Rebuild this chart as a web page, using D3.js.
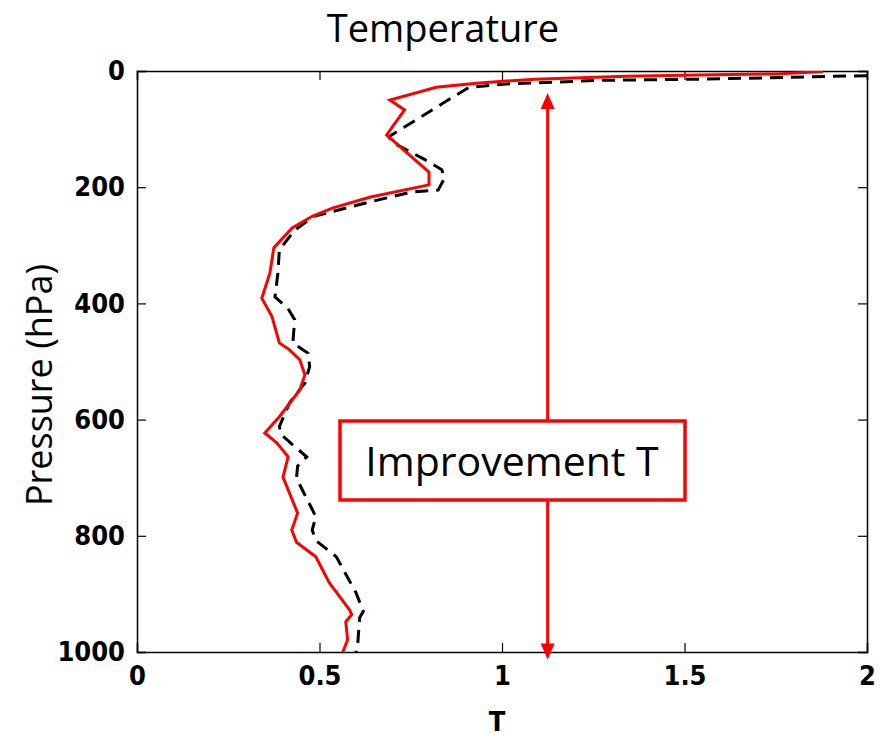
<!DOCTYPE html>
<html>
<head>
<meta charset="utf-8">
<script src="https://cdn.jsdelivr.net/npm/d3@7"></script>
<style>
  body { margin: 0; background: #fff; }
  svg { display: block; }
</style>
</head>
<body>
<svg id="chart" width="887" height="737"></svg>
<script>
// pressure levels (hPa) and T values
var redP = [1, 5, 7, 9, 14, 21, 28, 50, 67, 110, 174, 196, 217, 236, 250, 270, 304, 348, 391, 423, 468, 480, 497, 523, 549, 595, 623, 640, 664, 699, 761, 790, 811, 836, 881, 928, 936, 948, 979, 1000];
var redT = [1.88, 1.75, 1.54, 1.34, 1.09, 0.93, 0.82, 0.693, 0.733, 0.684, 0.80, 0.80, 0.64, 0.535, 0.48, 0.425, 0.375, 0.364, 0.342, 0.37, 0.39, 0.418, 0.446, 0.46, 0.446, 0.39, 0.35, 0.383, 0.414, 0.40, 0.44, 0.424, 0.437, 0.49, 0.527, 0.583, 0.588, 0.572, 0.577, 0.564];

var blackP = [8, 10, 14, 16, 22, 28, 45, 84, 113, 123, 153, 170, 184, 205, 208, 225, 250, 274, 308, 348, 389, 408, 428, 468, 486, 509, 537, 571, 612, 626, 649, 664, 680, 701, 767, 790, 808, 836, 898, 930, 941, 984, 1000];
var blackT = [2.0, 1.85, 1.55, 1.275, 1.02, 0.91, 0.865, 0.765, 0.69, 0.70, 0.79, 0.835, 0.843, 0.825, 0.755, 0.64, 0.485, 0.432, 0.39, 0.386, 0.378, 0.413, 0.432, 0.427, 0.469, 0.473, 0.46, 0.418, 0.39, 0.395, 0.437, 0.465, 0.44, 0.437, 0.49, 0.48, 0.49, 0.546, 0.60, 0.62, 0.61, 0.605, 0.60];

var xTicks = [0, 0.5, 1, 1.5, 2];
var xTickLabels = ['0', '0.5', '1', '1.5', '2'];
var yTicks = [0, 200, 400, 600, 800, 1000];

var arrowT = 1.125;
var arrowP = [38, 1013];

(function () {
    var svg = d3.select('#chart');
    var m = { left: 137, right: 867, top: 71, bottom: 652 };

    var x = d3.scaleLinear().domain([0, 2]).range([m.left, m.right]);
    var y = d3.scaleLinear().domain([0, 1000]).range([m.top, m.bottom]);

    var tickFont = '"DejaVu Sans Condensed", "Liberation Sans Narrow", "Liberation Sans", Arial, sans-serif';
    var textFont = '"Open Sans", sans-serif';

    // clip so the curves stay inside the frame
    svg.append('clipPath').attr('id', 'clip')
      .append('rect')
      .attr('x', m.left).attr('y', m.top)
      .attr('width', m.right - m.left).attr('height', m.bottom - m.top);

    // axes, ticks pointing inwards
    var xAxis = d3.axisBottom(x).tickValues(xTicks).tickSize(-9).tickPadding(14)
      .tickFormat(function (d, i) { return xTickLabels[i]; });
    var xTop = d3.axisTop(x).tickValues(xTicks).tickSize(-9).tickFormat('');
    var yAxis = d3.axisLeft(y).tickValues(yTicks).tickSize(-9).tickPadding(12)
      .tickFormat(d3.format('d'));
    var yRight = d3.axisRight(y).tickValues(yTicks).tickSize(-9).tickFormat('');

    svg.append('g').attr('transform', 'translate(0,' + m.bottom + ')').call(xAxis);
    svg.append('g').attr('transform', 'translate(0,' + m.top + ')').call(xTop);
    svg.append('g').attr('transform', 'translate(' + m.left + ',0)').call(yAxis);
    svg.append('g').attr('transform', 'translate(' + m.right + ',0)').call(yRight);

    svg.selectAll('.domain').attr('stroke', '#000').attr('stroke-width', 1.5);
    svg.selectAll('.tick line').attr('stroke', '#000').attr('stroke-width', 1.2);
    svg.selectAll('.tick text')
      .attr('fill', '#000')
      .style('font-family', tickFont)
      .style('font-size', '27px')
      .style('font-weight', 'bold');

    var line = d3.line()
      .x(function (d) { return x(d[0]); })
      .y(function (d) { return y(d[1]); });

    var curves = svg.append('g').attr('clip-path', 'url(#clip)');

    curves.append('path')
      .datum(d3.zip(blackT, blackP))
      .attr('d', line)
      .attr('fill', 'none')
      .attr('stroke', '#000')
      .attr('stroke-width', 3)
      .attr('stroke-dasharray', '13,8');

    curves.append('path')
      .datum(d3.zip(redT, redP))
      .attr('d', line)
      .attr('fill', 'none')
      .attr('stroke', '#ff0000')
      .attr('stroke-width', 3);

    // the double arrow
    var ax = x(arrowT);
    var y0 = y(arrowP[0]), y1 = y(arrowP[1]);
    svg.append('line')
      .attr('x1', ax).attr('x2', ax)
      .attr('y1', y0 + 14).attr('y2', y1 - 14)
      .attr('stroke', '#ff0000').attr('stroke-width', 3);
    svg.append('path')
      .attr('d', 'M' + ax + ',' + y0 + 'L' + (ax - 7) + ',' + (y0 + 16) + 'L' + (ax + 7) + ',' + (y0 + 16) + 'Z')
      .attr('fill', '#ff0000');
    svg.append('path')
      .attr('d', 'M' + ax + ',' + y1 + 'L' + (ax - 7) + ',' + (y1 - 16) + 'L' + (ax + 7) + ',' + (y1 - 16) + 'Z')
      .attr('fill', '#ff0000');

    // label box
    svg.append('rect')
      .attr('x', 340).attr('y', 421)
      .attr('width', 345).attr('height', 79)
      .attr('fill', '#fff')
      .attr('stroke', '#ff0000')
      .attr('stroke-width', 3.5);
    svg.append('text')
      .attr('x', 512).attr('y', 476)
      .attr('text-anchor', 'middle')
      .style('font-family', textFont)
      .style('font-size', '41px')
      .text('Improvement T');

    // titles
    svg.append('text')
      .attr('x', 443).attr('y', 42)
      .attr('text-anchor', 'middle')
      .style('font-family', textFont)
      .style('font-size', '38px')
      .text('Temperature');

    svg.append('text')
      .attr('transform', 'translate(52,385) rotate(-90)')
      .attr('text-anchor', 'middle')
      .style('font-family', textFont)
      .style('font-size', '36px')
      .text('Pressure (hPa)');

    svg.append('text')
      .attr('x', 497).attr('y', 731)
      .attr('text-anchor', 'middle')
      .style('font-family', tickFont)
      .style('font-size', '27px')
      .style('font-weight', 'bold')
      .text('T');
})();
</script>
</body>
</html>
